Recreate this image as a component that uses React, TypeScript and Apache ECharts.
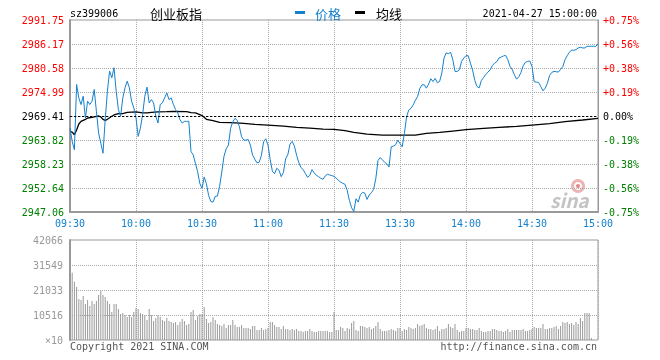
import React, { useEffect, useRef } from 'react';
import * as echarts from 'echarts';

const TIME_LABELS = ['09:30', '10:00', '10:30', '11:00', '11:30', '13:30', '14:00', '14:30', '15:00'];
const PRICE_TICKS = ['2947.06', '2952.64', '2958.23', '2963.82', '2969.41', '2974.99', '2980.58', '2986.17', '2991.75'];
const PCT_TICKS = ['-0.75%', '-0.56%', '-0.38%', '-0.19%', '0.00%', '+0.19%', '+0.38%', '+0.56%', '+0.75%'];
const VOL_TICKS = ['×10', '10516', '21033', '31549', '42066'];
const PREV_CLOSE = 2969.41;
const PRICE_MIN = 2947.06;
const PRICE_MAX = 2991.75;
const VOL_MAX = 42066;

const price = [
  2966.60, 2963.48, 2961.53, 2976.74, 2973.62, 2972.06, 2974.01, 2968.94, 2972.84, 2972.06,
  2972.84, 2975.57, 2970.50, 2965.43, 2963.09, 2960.75, 2968.55, 2975.18, 2979.86, 2978.30,
  2980.64, 2975.18, 2970.89, 2969.33, 2973.62, 2975.96, 2977.52, 2975.96, 2972.84, 2971.28,
  2968.94, 2964.65, 2966.60, 2969.72, 2974.01, 2976.12, 2972.45, 2973.23, 2972.45, 2969.33,
  2967.77, 2972.06, 2972.45, 2973.62, 2974.79, 2973.23, 2973.62, 2972.06, 2970.89, 2970.11,
  2968.55, 2967.77, 2968.16, 2968.16, 2968.16, 2961.14, 2960.36, 2958.41, 2956.46, 2953.73,
  2952.56, 2955.21, 2953.65, 2950.92, 2949.52, 2949.36, 2950.69, 2950.77, 2953.03, 2956.38,
  2960.05, 2961.77, 2962.62, 2966.52, 2968.08, 2968.86, 2968.40, 2966.91, 2964.57, 2963.79,
  2963.79, 2963.95, 2962.62, 2960.28, 2959.35, 2958.49, 2958.65, 2960.21, 2963.40, 2964.11,
  2962.62, 2959.27, 2956.54, 2955.99, 2957.24, 2956.77, 2955.29, 2956.23, 2959.43, 2960.36,
  2962.86, 2963.48, 2962.39, 2960.28, 2958.57, 2957.40, 2956.93, 2955.99, 2955.14, 2955.60,
  2956.93, 2956.15, 2955.60, 2955.29, 2954.90, 2954.67, 2955.45, 2955.84, 2955.68, 2955.52,
  2955.37, 2954.90, 2954.43, 2954.04, 2953.73, 2953.50, 2952.09, 2949.75, 2948.04, 2947.20,
  2950.14, 2949.36, 2951.08, 2951.63, 2951.47, 2949.99, 2951.00, 2951.55, 2952.33, 2954.82,
  2959.04, 2959.74, 2959.19, 2958.65, 2958.26, 2957.55, 2962.23, 2962.39, 2962.70, 2963.79,
  2963.01, 2962.23, 2965.35, 2969.25, 2970.81, 2971.20, 2971.98, 2973.08, 2973.93, 2975.81,
  2976.66, 2976.66, 2975.88, 2976.82, 2978.07, 2977.44, 2978.15, 2977.13, 2977.44, 2979.39,
  2982.90, 2984.07, 2983.92, 2984.23, 2982.51, 2979.78, 2979.78, 2980.17, 2982.12, 2982.90,
  2983.45, 2983.45, 2981.73, 2980.10, 2977.68, 2976.27, 2975.96, 2977.68, 2978.38, 2979.08,
  2979.63, 2980.17, 2981.19, 2981.66, 2982.05, 2982.90, 2983.14, 2983.37, 2983.53, 2982.51,
  2980.95, 2980.25, 2979.00, 2977.99, 2978.54, 2979.55, 2981.11, 2981.89, 2982.12, 2982.20,
  2980.95, 2977.37, 2977.29, 2977.21, 2976.27, 2975.26, 2975.88, 2977.05, 2978.85, 2979.55,
  2979.78, 2979.71, 2979.63, 2980.25, 2980.88, 2982.51, 2983.45, 2984.23, 2984.78, 2984.70,
  2984.85, 2985.24, 2985.40, 2985.24, 2985.24, 2985.63, 2985.63, 2985.63, 2985.63, 2985.63,
  2986.18,
];

const avgLine = [
  [0, 2965.82], [1, 2965.67], [2, 2965.04], [3, 2966.13], [4, 2967.54], [5, 2968.16], [7, 2968.63],
  [8, 2968.94], [10, 2969.10], [12, 2969.33], [13, 2969.41], [14, 2969.18], [15, 2968.63], [16, 2968.40],
  [17, 2968.63], [19, 2969.33], [20, 2969.64], [22, 2969.96], [24, 2969.96], [26, 2970.27], [30, 2970.35],
  [33, 2970.11], [35, 2970.11], [37, 2970.27], [40, 2970.35], [44, 2970.42], [47, 2970.50], [53, 2970.42],
  [55, 2970.19], [57, 2970.11], [59, 2969.72], [60, 2969.49], [61, 2969.10], [62, 2968.63], [65, 2968.32],
  [68, 2967.93], [73, 2967.85], [79, 2967.69], [84, 2967.46], [90, 2967.30], [97, 2967.07], [103, 2966.76],
  [109, 2966.60], [115, 2966.37], [120, 2966.29], [125, 2965.98], [129, 2965.59], [135, 2965.20],
  [142, 2964.96], [150, 2964.96], [157, 2964.96], [162, 2965.35], [168, 2965.59], [174, 2965.90],
  [180, 2966.21], [188, 2966.52], [195, 2966.76], [203, 2966.99], [210, 2967.30], [218, 2967.62],
  [225, 2968.08], [233, 2968.47], [240, 2968.86],
];

const volume = [
  30000, 28300, 24500, 22300, 17200, 16800, 18500, 15100, 16800, 14300,
  16400, 15100, 16400, 18900, 20600, 18900, 18100, 16400, 15100, 11800,
  15100, 15100, 13000, 10900, 11400, 10500, 9700, 10500, 9700, 11800,
  13500, 13000, 11400, 10900, 10500, 8400, 13000, 10500, 8000, 9300,
  10500, 9700, 8400, 8000, 9300, 8000, 7600, 7200, 7600, 6300,
  7600, 8800, 8000, 6300, 6700, 11800, 12600, 8400, 10100, 10900,
  10900, 13900, 8800, 7200, 7600, 9700, 8400, 6700, 6300, 5900,
  6700, 5000, 6300, 6300, 8400, 6300, 5500, 5500, 6300, 5000,
  5000, 5000, 4600, 5900, 5900, 4200, 4200, 5000, 4200, 4600,
  5000, 7600, 7600, 6300, 5500, 5500, 4600, 5900, 4600, 4600,
  4200, 4600, 4200, 4600, 3800, 3800, 3400, 3800, 3800, 4600,
  3800, 3400, 3400, 3800, 3800, 3800, 3800, 3800, 3400, 3400,
  11800, 4200, 4200, 5500, 5000, 3800, 5000, 4600, 7200, 8000,
  4200, 3800, 5900, 5900, 5500, 5000, 5500, 4600, 5000, 5900,
  7600, 4600, 3800, 3800, 3800, 4200, 4600, 4200, 3800, 5000,
  5000, 3800, 4600, 4200, 5500, 5000, 4600, 5000, 6700, 5900,
  6300, 6700, 5000, 4600, 4600, 4200, 4600, 5900, 3800, 4600,
  4600, 5000, 6700, 5500, 5000, 6700, 4200, 3400, 3800, 3800,
  5000, 5000, 4600, 4600, 4200, 4200, 5000, 3800, 3400, 3400,
  3800, 3800, 4600, 4600, 4200, 3800, 3800, 3400, 3800, 4600,
  3400, 4200, 4200, 4200, 4200, 4200, 4600, 3800, 3800, 4200,
  4600, 5500, 5000, 5000, 5000, 6700, 4600, 4600, 5000, 5000,
  5500, 5900, 4600, 5900, 7600, 7200, 7600, 6700, 7200, 6300,
  7600, 6700, 9300, 8000, 11400, 11400, 11400, 800, 0, 0,
  0,
];

const BLUE = '#1580cc';
const MONO = '"DejaVu Sans Mono", monospace';
const CJK = '"Noto Sans CJK SC", sans-serif';
const GRID_LINE = { color: '#aaaaaa', type: [1, 1] as number[], width: 1 };

export default function App() {
  const ref = useRef<HTMLDivElement>(null);
  useEffect(() => {
    if (!ref.current) return;
    const chart = echarts.init(ref.current, null, { renderer: 'svg' });
    const richBase = { fontFamily: MONO, fontSize: 10 };
    const colorKey = (i: number) => (i < 4 ? 'g' : i === 4 ? 'k' : 'r');
    const rich = { g: { ...richBase, color: '#008000' }, k: { ...richBase, color: '#000' }, r: { ...richBase, color: '#ff0000' } };
    chart.setOption({
      animation: false,
      grid: [
        { left: 70, top: 20, width: 528, height: 192, show: true, borderColor: '#999', borderWidth: 1 },
        { left: 70, top: 240, width: 528, height: 100, show: true, borderColor: '#999', borderWidth: 1 },
      ],
      xAxis: [
        {
          gridIndex: 0, type: 'value', min: 0, max: 240, interval: 30,
          axisLine: { show: true, lineStyle: { color: '#999', width: 2 } },
          axisTick: { show: false },
          axisLabel: {
            formatter: (v: number) => TIME_LABELS[Math.round(v / 30)] ?? '',
            color: BLUE, fontFamily: MONO, fontSize: 10, margin: 6, showMinLabel: true, showMaxLabel: true,
          },
          splitLine: { show: true, lineStyle: GRID_LINE },
        },
        {
          gridIndex: 1, type: 'value', min: 0, max: 240, interval: 30,
          axisLine: { show: false }, axisTick: { show: false }, axisLabel: { show: false },
          splitLine: { show: true, lineStyle: GRID_LINE },
        },
      ],
      yAxis: [
        { gridIndex: 0, type: 'value', min: PRICE_MIN, max: PRICE_MAX, show: false, position: 'right' },
        {
          gridIndex: 0, type: 'value', min: 0, max: 8, interval: 1, position: 'left',
          axisLine: { show: true, lineStyle: { color: '#999', width: 2 } },
          axisTick: { show: false },
          axisLabel: {
            margin: 6, fontFamily: MONO, fontSize: 10,
            formatter: (v: number) => {
              const i = Math.round(v);
              return `{${colorKey(i)}|${PRICE_TICKS[i]}}`;
            },
            rich,
          },
          splitLine: { show: true, showMinLine: false, showMaxLine: false, lineStyle: GRID_LINE },
        },
        {
          gridIndex: 0, type: 'value', min: 0, max: 8, interval: 1, position: 'right',
          axisLine: { show: true, lineStyle: { color: '#999', width: 1 } },
          axisTick: { show: false },
          axisLabel: {
            margin: 5, fontFamily: MONO, fontSize: 10,
            formatter: (v: number) => {
              const i = Math.round(v);
              return `{${colorKey(i)}|${PCT_TICKS[i]}}`;
            },
            rich,
          },
          splitLine: { show: false },
        },
        { gridIndex: 1, type: 'value', min: 0, max: VOL_MAX, show: false, position: 'right' },
        {
          gridIndex: 1, type: 'value', min: 0, max: 4, interval: 1, position: 'left',
          axisLine: { show: true, lineStyle: { color: '#999', width: 2 } },
          axisTick: { show: false },
          axisLabel: {
            margin: 7, fontFamily: MONO, fontSize: 10, color: '#999',
            formatter: (v: number) => VOL_TICKS[Math.round(v)] ?? '',
          },
          splitLine: { show: true, showMinLine: false, showMaxLine: false, lineStyle: GRID_LINE },
        },
      ],
      series: [
        {
          name: '量', type: 'bar', xAxisIndex: 1, yAxisIndex: 3, barWidth: 1,
          data: volume.map((v, i) => [i, v]),
          itemStyle: { color: '#999' }, silent: true,
        },
        {
          name: '均线', type: 'line', xAxisIndex: 0, yAxisIndex: 0, showSymbol: false, symbol: 'none',
          data: avgLine, lineStyle: { color: '#000', width: 1.3 }, silent: true, z: 3,
        },
        {
          name: '价格', type: 'line', xAxisIndex: 0, yAxisIndex: 0, showSymbol: false, symbol: 'none',
          data: price.map((v, i) => [i, v]), lineStyle: { color: BLUE, width: 1 }, silent: true, z: 4,
          markLine: {
            silent: true, symbol: ['none', 'none'], label: { show: false },
            lineStyle: { color: '#000', type: [2, 2], width: 1 },
            data: [{ yAxis: PREV_CLOSE }],
          },
        },
      ],
      graphic: [
        { type: 'text', x: 70, y: 13, style: { text: 'sz399006', font: `10px ${MONO}`, fill: '#000', verticalAlign: 'middle' } },
        { type: 'text', x: 150, y: 13, style: { text: '创业板指', font: `13px ${CJK}`, fill: '#000', verticalAlign: 'middle' } },
        { type: 'rect', shape: { x: 295, y: 11, width: 10, height: 3 }, style: { fill: BLUE } },
        { type: 'text', x: 315, y: 13, style: { text: '价格', font: `13px ${CJK}`, fill: BLUE, verticalAlign: 'middle' } },
        { type: 'rect', shape: { x: 355, y: 11, width: 10, height: 3 }, style: { fill: '#000' } },
        { type: 'text', x: 376, y: 13, style: { text: '均线', font: `13px ${CJK}`, fill: '#000', verticalAlign: 'middle' } },
        { type: 'text', x: 597, y: 13, style: { text: '2021-04-27 15:00:00', font: `10px ${MONO}`, fill: '#000', align: 'right', verticalAlign: 'middle' } },
        { type: 'text', x: 70, y: 346, style: { text: 'Copyright 2021 SINA.COM', font: `10px ${MONO}`, fill: '#555', verticalAlign: 'middle' } },
        { type: 'text', x: 597, y: 346, style: { text: 'http://finance.sina.com.cn', font: `10px ${MONO}`, fill: '#555', align: 'right', verticalAlign: 'middle' } },
        { type: 'ring', shape: { cx: 578, cy: 186, r: 7, r0: 4 }, style: { fill: '#eeb4b4' }, silent: true },
        { type: 'circle', shape: { cx: 578, cy: 186, r: 2 }, style: { fill: '#e08a8a' }, silent: true },
        { type: 'text', x: 550, y: 199, style: { text: 'sina', font: `italic bold 19px ${CJK}`, fill: '#c4c4c4', verticalAlign: 'middle' }, silent: true },
      ],
    });
    return () => chart.dispose();
  }, []);
  return <div ref={ref} style={{ position: 'fixed', left: 0, top: 0, width: 660, height: 360 }} />;
}
